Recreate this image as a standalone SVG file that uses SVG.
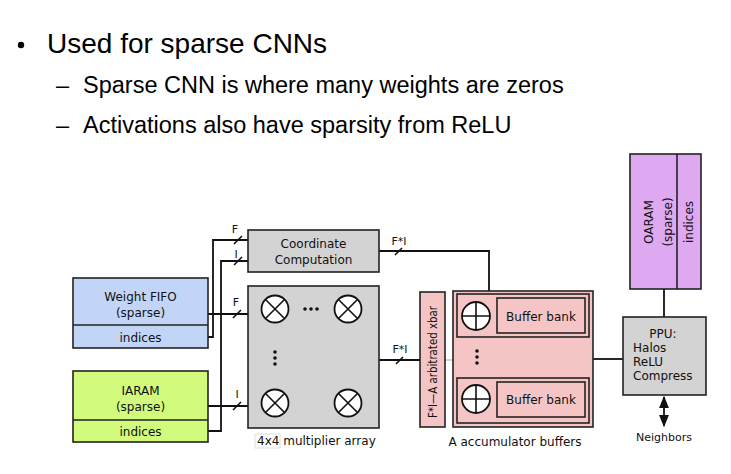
<svg xmlns="http://www.w3.org/2000/svg" width="731" height="474" viewBox="0 0 731 474">
<style>
.t{font-family:"Liberation Sans",Arial,sans-serif;fill:#000}
.d{font-family:"DejaVu Sans",Verdana,sans-serif;font-size:12px;fill:#111}
.c{text-anchor:middle}
.box{stroke:#222;stroke-width:1.6}
.w{fill:none;stroke:#111;stroke-width:1.8}
.sl{stroke:#111;stroke-width:1.6}
.lbl{font-family:"DejaVu Sans",Verdana,sans-serif;font-size:11px;fill:#111;text-anchor:middle}
.ox{fill:#fff;stroke:#111;stroke-width:1.8}
</style>
<defs>
<marker id="ah" viewBox="0 0 10 10" refX="9" refY="5" markerWidth="7" markerHeight="7" orient="auto-start-reverse"><path d="M0,1 L10,5 L0,9 Z" fill="#111"/></marker>
<g id="mulsym"><circle r="13.5" class="ox"/><path d="M-9.5,-9.5 L9.5,9.5 M-9.5,9.5 L9.5,-9.5" class="sl" stroke-width="1.8"/></g>
<g id="addsym"><circle r="14" class="ox"/><path d="M-14,0 L14,0 M0,-14 L0,14" class="sl" stroke-width="1.8"/></g>
</defs>
<rect width="731" height="474" fill="#fff"/>
<g id="bullets">
<circle cx="21" cy="45" r="3.2" fill="#000"/>
<text class="t" x="47" y="53" font-size="28">Used for sparse CNNs</text>
<text class="t" x="56" y="93" font-size="23.5">–</text>
<text class="t" x="83" y="93" font-size="23.5">Sparse CNN is where many weights are zeros</text>
<text class="t" x="56" y="133" font-size="23.5">–</text>
<text class="t" x="83" y="133" font-size="23.5">Activations also have sparsity from ReLU</text>
</g>
<g id="connectors">
<polyline class="w" points="208,337 213,337 213,240 248,240"/>
<polyline class="w" points="208,431 221,431 221,261 248,261"/>
<line class="w" x1="208" y1="314" x2="248" y2="314"/>
<line class="w" x1="208" y1="406" x2="248" y2="406"/>
<polyline class="w" points="379,251 489,251 489,291"/>
<line class="w" x1="379" y1="360" x2="420" y2="360"/>
<line x1="445" y1="360" x2="453" y2="360" stroke="#aaa" stroke-width="1"/>
<line class="w" x1="593" y1="359" x2="623" y2="359"/>
<line class="w" x1="664" y1="289" x2="664" y2="317"/>
<line class="w" x1="664" y1="397" x2="664" y2="426" marker-start="url(#ah)" marker-end="url(#ah)"/>
<line class="sl" x1="234" y1="244" x2="242" y2="236"/>
<line class="sl" x1="234" y1="265" x2="242" y2="257"/>
<line class="sl" x1="233" y1="318" x2="241" y2="310"/>
<line class="sl" x1="233" y1="410" x2="241" y2="402"/>
<line class="sl" x1="395" y1="255" x2="402" y2="248"/>
<line class="sl" x1="396" y1="364" x2="403" y2="357"/>
<text class="lbl" x="235" y="233">F</text>
<text class="lbl" x="236" y="258">I</text>
<text class="lbl" x="236" y="306">F</text>
<text class="lbl" x="237" y="398">I</text>
<text class="lbl" x="399" y="245">F*I</text>
<text class="lbl" x="400" y="353">F*I</text>
</g>
<g id="weight-fifo">
<rect class="box" x="73" y="278" width="135" height="70" fill="#c3d5f7"/>
<line class="box" x1="73" y1="325" x2="208" y2="325"/>
<text class="d c" x="140.5" y="301">Weight FIFO</text>
<text class="d c" x="140.5" y="317">(sparse)</text>
<text class="d c" x="140.5" y="342">indices</text>
</g>
<g id="iaram">
<rect class="box" x="73" y="371" width="135" height="71" fill="#d2fa7d"/>
<line class="box" x1="73" y1="420" x2="208" y2="420"/>
<text class="d c" x="140.5" y="395">IARAM</text>
<text class="d c" x="140.5" y="411">(sparse)</text>
<text class="d c" x="140.5" y="436">indices</text>
</g>
<g id="coordinate-computation">
<rect class="box" x="248" y="230" width="131" height="42" fill="#d3d3d3"/>
<text class="d c" x="313.5" y="248">Coordinate</text>
<text class="d c" x="313.5" y="264">Computation</text>
</g>
<g id="multiplier-array">
<rect class="box" x="248" y="286" width="131" height="142" fill="#d3d3d3"/>
<use href="#mulsym" x="275" y="309"/>
<use href="#mulsym" x="348" y="309"/>
<use href="#mulsym" x="275" y="403"/>
<use href="#mulsym" x="348" y="403"/>
<circle cx="305" cy="309" r="1.8" fill="#111"/><circle cx="311" cy="309" r="1.8" fill="#111"/><circle cx="317" cy="309" r="1.8" fill="#111"/>
<circle cx="275" cy="352" r="1.8" fill="#111"/><circle cx="275" cy="358" r="1.8" fill="#111"/><circle cx="275" cy="364" r="1.8" fill="#111"/>
<rect x="255" y="434" width="25" height="14" fill="none" stroke="#ddd" stroke-width="1"/>
<text class="d" x="257" y="445">4x4 multiplier array</text>
</g>
<g id="xbar">
<rect class="box" x="420" y="292" width="25" height="135" fill="#f5c5c5"/>
<text class="d c" transform="translate(437,362) rotate(-90)" x="0" y="0" textLength="112" lengthAdjust="spacingAndGlyphs">F*I—A arbitrated xbar</text>
</g>
<g id="accumulator-buffers">
<rect class="box" x="453" y="291" width="140" height="136" fill="#f5c5c5"/>
<rect class="box" x="457" y="294" width="132" height="43" fill="#f5c5c5"/>
<rect class="box" x="497" y="298" width="88" height="35" fill="#f5c5c5"/>
<use href="#addsym" x="476" y="316"/>
<text class="d c" x="541" y="321">Buffer bank</text>
<rect class="box" x="457" y="378" width="132" height="45" fill="#f5c5c5"/>
<rect class="box" x="497" y="382" width="88" height="35" fill="#f5c5c5"/>
<use href="#addsym" x="476" y="399"/>
<text class="d c" x="541" y="404">Buffer bank</text>
<circle cx="477" cy="351" r="1.8" fill="#111"/><circle cx="477" cy="357" r="1.8" fill="#111"/><circle cx="477" cy="363" r="1.8" fill="#111"/>
<text class="d c" x="515" y="446">A accumulator buffers</text>
</g>
<g id="oaram">
<rect class="box" x="630" y="154" width="71" height="135" fill="#dfa9f2"/>
<line class="box" x1="677" y1="154" x2="677" y2="289"/>
<text class="d c" transform="translate(653,222) rotate(-90)">OARAM</text>
<text class="d c" transform="translate(672,222) rotate(-90)">(sparse)</text>
<text class="d c" transform="translate(693,222) rotate(-90)">indices</text>
</g>
<g id="ppu">
<rect class="box" x="623" y="317" width="83" height="78" fill="#d3d3d3"/>
<text class="d c" x="663" y="338">PPU:</text>
<text class="d" x="633" y="352">Halos</text>
<text class="d" x="633" y="366">ReLU</text>
<text class="d" x="633" y="380">Compress</text>
</g>
<g id="neighbors">
<text class="lbl" x="664" y="441">Neighbors</text>
</g>
</svg>
